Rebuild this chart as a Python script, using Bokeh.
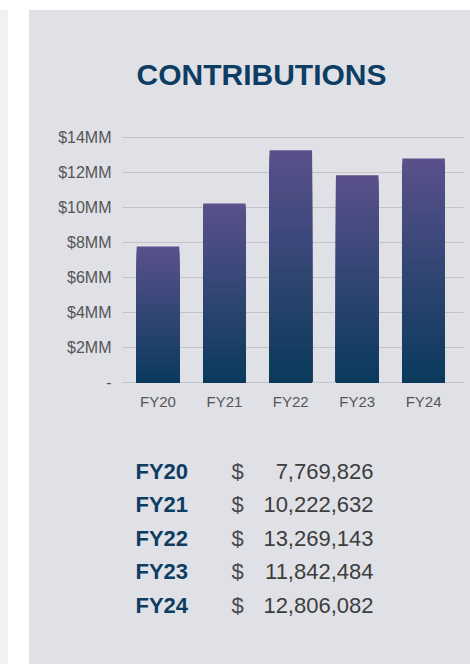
from bokeh.plotting import figure
from bokeh.models import Range1d, FixedTicker, Spacer, Div, ColumnDataSource
from bokeh.layouts import column, row
from bokeh.embed import file_html
from bokeh.resources import INLINE
from bokeh.core.properties import value

# ---------------- data ----------------
years = ["FY20", "FY21", "FY22", "FY23", "FY24"]
contributions = [7769826, 10222632, 13269143, 11842484, 12806082]
y_tick_values = [0, 2000000, 4000000, 6000000, 8000000, 10000000, 12000000, 14000000]
y_tick_labels = ["-", "$2MM", "$4MM", "$6MM", "$8MM", "$10MM", "$12MM", "$14MM"]
title_text = "CONTRIBUTIONS"
currency = "$"

# ---------------- style ----------------
PANEL = "#e0e1e6"
STRIP = "#eef3ed"
NAVY = "#0d3d63"
GRID = "#c2c3c8"
LABEL = "#555555"
BAR_TOP = (90, 81, 138)
BAR_BOTTOM = (10, 58, 93)
FONT = "Liberation Sans"
W = 441
BL, BR = 93, 7          # left / right borders shared by all figures (frames align)
H0, H1, H2 = 110, 310, 234


def blank(fig):
    fig.grid.visible = False
    fig.outline_line_color = None
    fig.background_fill_color = None
    fig.border_fill_color = PANEL


# ---------------- title ----------------
f0 = figure(width=W, height=H0, x_range=Range1d(BL, W - BR), y_range=Range1d(H0, 0),
            output_backend="svg", toolbar_location=None,
            min_border_left=BL, min_border_right=BR, min_border_top=0, min_border_bottom=0,
            x_axis_location=None, y_axis_location=None)
blank(f0)
f0.text(x=[232], y=[64], text=[title_text], text_align="center", text_baseline="middle",
        text_font=value(FONT), text_font_style="bold", text_font_size="30px", text_color=NAVY)

# ---------------- bar chart ----------------
n = len(years)
xs = list(range(n))
px_per_unit = 66.4
x_start = -35.5 / px_per_unit
x_end = x_start + (W - BL - BR) / px_per_unit
pad = 2 / 244.4 * y_tick_values[-1]

p = figure(width=W, height=H1, x_range=Range1d(x_start, x_end),
           y_range=Range1d(-pad, y_tick_values[-1] + pad),
           output_backend="svg", toolbar_location=None,
           min_border_left=BL, min_border_right=BR, min_border_top=15, min_border_bottom=46)
p.outline_line_color = None
p.background_fill_color = None
p.border_fill_color = PANEL


def mix(a, b, t):
    return "#%02x%02x%02x" % tuple(int(round(a[j] + (b[j] - a[j]) * t)) for j in range(3))


N = 60
src = dict(x=[], top=[], color=[])
for k in range(N, 0, -1):
    c = mix(BAR_BOTTOM, BAR_TOP, (k - 0.5) / N)
    for i, v in enumerate(contributions):
        src["x"].append(xs[i])
        src["top"].append(v * k / N)
        src["color"].append(c)
p.vbar(x="x", top="top", bottom=0, width=0.64, fill_color="color", line_color=None,
       source=ColumnDataSource(src))

yt = FixedTicker(ticks=y_tick_values)
p.yaxis.ticker = yt
p.ygrid.ticker = yt
p.yaxis.major_label_overrides = {float(v): l for v, l in zip(y_tick_values, y_tick_labels)}
p.xaxis.ticker = FixedTicker(ticks=xs)
p.xaxis.major_label_overrides = {float(i): y for i, y in zip(xs, years)}
p.xgrid.visible = False
p.ygrid.grid_line_color = GRID
p.ygrid.grid_line_width = 1
for ax in (p.xaxis, p.yaxis):
    ax.axis_line_color = None
    ax.major_tick_line_color = None
    ax.minor_tick_line_color = None
    ax.major_tick_in = 0
    ax.major_tick_out = 0
    ax.minor_tick_in = 0
    ax.minor_tick_out = 0
    ax.major_label_text_font = FONT
    ax.major_label_text_color = LABEL
p.xaxis.major_label_text_font_size = "15px"
p.yaxis.major_label_text_font_size = "16px"
p.yaxis.major_label_standoff = 11
p.xaxis.major_label_standoff = 8

# ---------------- table ----------------
row0 = 41
row_step = 33.4
f2 = figure(width=W, height=H2, x_range=Range1d(BL, W - BR),
            y_range=Range1d((H2 - row0) / row_step, -row0 / row_step),
            output_backend="svg", toolbar_location=None,
            min_border_left=BL, min_border_right=BR, min_border_top=0, min_border_bottom=0,
            x_axis_location=None, y_axis_location=None)
blank(f2)
tsrc = ColumnDataSource(dict(
    y=xs, year=years, cur=[currency] * n,
    amount=["{:,}".format(v) for v in contributions]))
f2.text(x=106, y="y", text="year", source=tsrc, text_align="left", text_baseline="middle",
        text_font=value(FONT), text_font_style="bold", text_font_size="22px", text_color=NAVY)
f2.text(x=202, y="y", text="cur", source=tsrc, text_align="left", text_baseline="middle",
        text_font=value(FONT), text_font_size="22px", text_color="#4a4a4a")
f2.text(x=344, y="y", text="amount", source=tsrc, text_align="right", text_baseline="middle",
        text_font=value(FONT), text_font_size="22px", text_color="#3d3d3d")

# ---------------- page ----------------
HT = H0 + H1 + H2
strip = Div(width=8, height=HT, text="", margin=0, styles={"background-color": STRIP})
gap = Spacer(width=21, height=HT)
panel = column(f0, p, f2, styles={"background-color": PANEL})
root = column(Spacer(width=470, height=10), row(strip, gap, panel))

open("out.html", "w").write(file_html(root, INLINE))
